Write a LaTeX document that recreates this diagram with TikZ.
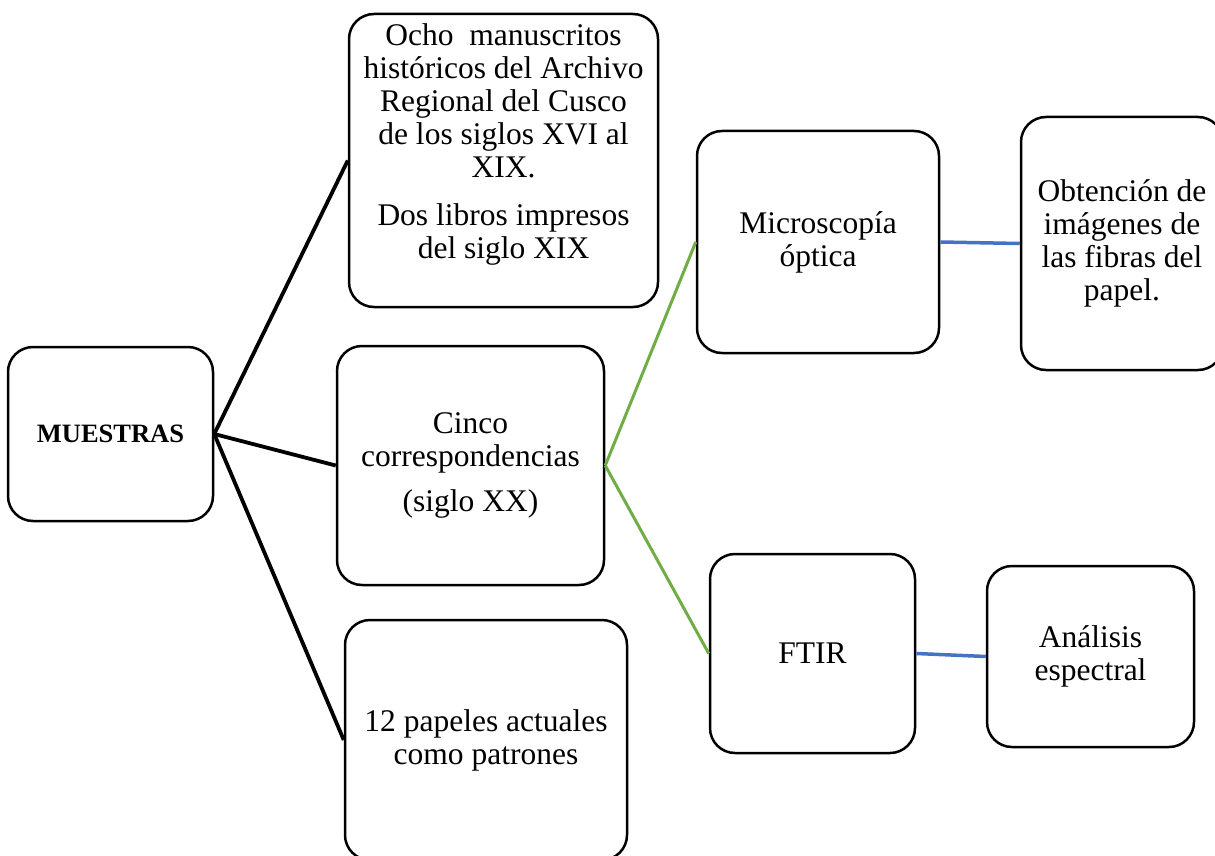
\documentclass[tikz,border=0pt]{standalone}
\usepackage{fontspec}
\setmainfont{Liberation Serif}
\usetikzlibrary{positioning}
\definecolor{verde}{RGB}{112,173,71}
\definecolor{azul}{RGB}{68,114,196}
\tikzset{caja/.style={draw,rounded corners=25pt,line width=2.5pt,align=center,inner sep=4pt,font=\fontsize{31.5}{33}\selectfont},
  texto/.style={align=center,font=\fontsize{31.5}{33}\selectfont},
  negro/.style={line width=3.8pt},
  rama/.style={verde,line width=3pt},
  hoja/.style={azul,line width=3.5pt}}

\begin{document}
\begin{tikzpicture}[x=1pt,y=-1pt]
    \useasboundingbox (0,0) rectangle (1215,856);
    % columna izquierda
    \node[caja,minimum width=205pt,minimum height=174pt,font=\bfseries\fontsize{26.5}{30}\selectfont] (muestras) at (110.5,434) {MUESTRAS};
    % muestras
    \node[caja,minimum width=309pt,minimum height=293pt] (ocho) at (503.5,160.5) {};
    \node[texto] (ochotxt) at ([yshift=16pt]ocho.center) {Ocho~ manuscritos\\históricos del Archivo\\Regional del Cusco\\de los siglos XVI al\\XIX.\\[15pt]Dos libros impresos\\del siglo XIX};
    \node[caja,minimum width=267pt,minimum height=239pt] (cinco) at (470.5,465.5) {Cinco\\correspondencias\\[12pt](siglo XX)};
    \node[caja,minimum width=282pt,minimum height=240pt] (papeles) at (486,740) {12 papeles actuales\\como patrones};
    % tecnicas
    \node[caja,minimum width=242pt,minimum height=222pt] (micro) at (818,242) {Microscopía\\óptica};
    \node[caja,minimum width=202pt,minimum height=253pt] (imagenes) at (1122,243.5) {Obtención de\\imágenes de\\las fibras del\\papel.};
    \node[caja,minimum width=205pt,minimum height=199pt] (ftir) at (812.5,653.5) {FTIR};
    \node[caja,minimum width=207pt,minimum height=181pt] (espectral) at (1090.5,656.5) {Análisis\\espectral};
    % conectores
    \draw[negro] (muestras.east) -- (ocho.west);
    \draw[negro] (muestras.east) -- (cinco.west);
    \draw[negro] (muestras.east) -- (papeles.west);
    \draw[rama] (cinco.east) -- (micro.west);
    \draw[rama] (cinco.east) -- (ftir.west);
    \draw[hoja] (micro.east) -- (imagenes.west);
    \draw[hoja] (ftir.east) -- (espectral.west);
\end{tikzpicture}
\end{document}
